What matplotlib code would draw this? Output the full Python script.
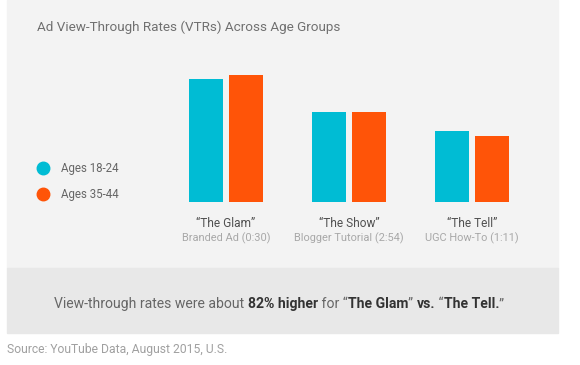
import matplotlib.pyplot as plt
from matplotlib.patches import Rectangle
from matplotlib.lines import Line2D

plt.rcParams['font.family'] = ['Roboto', 'DejaVu Sans']

# data (relative VTR)
ads = ['\u201cThe Glam\u201d', '\u201cThe Show\u201d', '\u201cThe Tell\u201d']
ad_types = ['Branded Ad (0:30)', 'Blogger Tutorial (2:54)', 'UGC How-To (1:11)']
ages_18_24 = [122.4, 89.4, 70.7]
ages_35_44 = [127.0, 89.4, 66.0]
series_names = ['Ages 18-24', 'Ages 35-44']

cyan = '#00bcd4'
orange = '#ff5408'
W, H = 580, 365

fig = plt.figure(figsize=(W / 100, H / 100), dpi=100)
fig.patch.set_facecolor('white')

# background panels
fig.add_artist(Rectangle((7 / W, 1 - 268 / H), 551 / W, 268 / H,
                         transform=fig.transFigure, color='#f3f3f3', zorder=0))
fig.add_artist(Rectangle((7 / W, 1 - 333 / H), 551 / W, 65 / H,
                         transform=fig.transFigure, color='#e8e8e8', zorder=0))

fig.text(37 / W, 1 - 27 / H, 'Ad View-Through Rates (VTRs) Across Age Groups',
         fontsize=9.7, color='#707070', va='center', ha='left')

# bar axes
left_px, right_px, bottom_px, top_px = 160, 545, 201.7, 60
ax = fig.add_axes([left_px / W, 1 - bottom_px / H,
                   (right_px - left_px) / W, (bottom_px - top_px) / H])
ax.set_facecolor('none')
unit = 123.0
x = list(range(len(ads)))
ax.set_xlim(-(226 - left_px) / unit, (right_px - 226) / unit)
ax.set_ylim(0, bottom_px - top_px)
bw = 34 / unit
off = 20 / unit
ax.bar([i - off for i in x], ages_18_24, width=bw, color=cyan)
ax.bar([i + off for i in x], ages_35_44, width=bw, color=orange)
ax.axis('off')

for i in x:
    ax.annotate(ads[i], xy=(i, 0), xytext=(0, -22), textcoords='offset pixels',
                ha='center', va='center', fontsize=8.6, color='#505050')
    ax.annotate(ad_types[i], xy=(i, 0), xytext=(0, -37), textcoords='offset pixels',
                ha='center', va='center', fontsize=7.9, color='#a8a8a8')

# legend
handles = [Line2D([], [], marker='o', ls='', ms=9, color=c) for c in (cyan, orange)]
fig.legend(handles, series_names, loc='center left',
           bbox_to_anchor=(26 / W, 1 - 181.5 / H), frameon=False, fontsize=8.3,
           labelspacing=1.2, handletextpad=0.95, handlelength=1.2,
           labelcolor='#666666')

# summary line with bold parts
pieces = [('View-through rates were about ', 'normal'), ('82% higher', 'bold'),
          (' for \u201c', 'normal'), ('The Glam', 'bold'), ('\u201d ', 'normal'),
          ('vs.', 'bold'), (' \u201c', 'normal'), ('The Tell.', 'bold'),
          ('\u201d', 'normal')]
fs = 10.1
first = fig.text(54 / W, 1 - 304 / H, pieces[0][0], fontsize=fs, color='#666666',
                 va='center', ha='left')
fig.canvas.draw()
renderer = fig.canvas.get_renderer()
bb = first.get_window_extent(renderer)
x0, y0 = bb.x1, bb.y0
for txt, wt in pieces[1:]:
    t = fig.text(x0 / W, y0 / H, txt, fontsize=fs, fontweight=wt,
                 color='#333333' if wt == 'bold' else '#666666',
                 va='bottom', ha='left')
    x0 = t.get_window_extent(renderer).x1

fig.text(7 / W, 1 - 349 / H, 'Source: YouTube Data, August 2015, U.S.',
         fontsize=8.7, color='#a0a0a0', va='center', ha='left')

fig.savefig('out.png', dpi=100)
